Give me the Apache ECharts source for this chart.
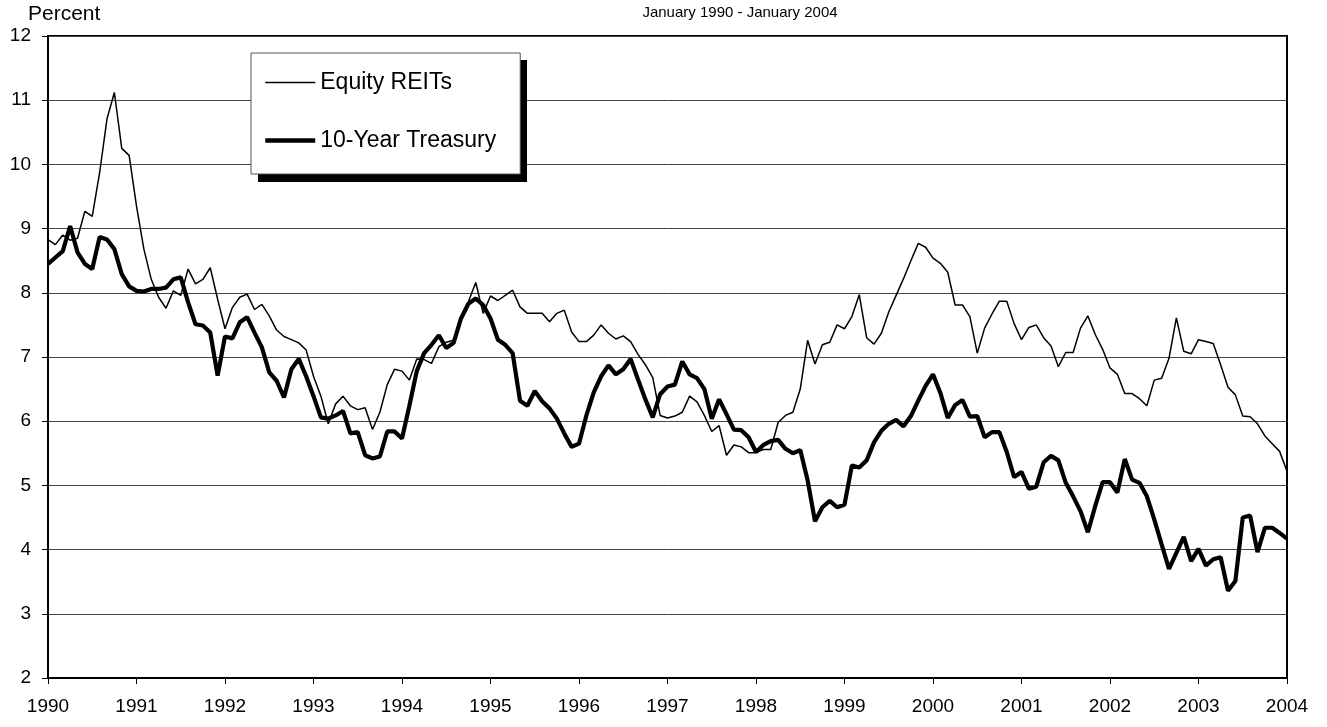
<!DOCTYPE html>
<html>
<head>
<meta charset="utf-8">
<script src="https://cdn.jsdelivr.net/npm/echarts@6/dist/echarts.min.js"></script>
<style>
html,body{margin:0;padding:0;background:#fff;}
#chart{width:1327px;height:727px;}
</style>
</head>
<body>
<div id="chart"></div>
<script>
// Monthly categories Jan 1990 .. Jan 2004
var months = [];
for (var y = 1990; y <= 2004; y++) {
  for (var m = 1; m <= 12; m++) {
    if (y === 2004 && m > 1) break;
    months.push(y + '-' + (m < 10 ? '0' + m : m));
  }
}
var yTicks = [2, 3, 4, 5, 6, 7, 8, 9, 10, 11, 12];
var titleText = 'January 1990 - January 2004';
var yAxisName = 'Percent';
var seriesNames = ['Equity REITs', '10-Year Treasury'];

var equityREITs = [
  8.83, 8.75, 8.90, 8.82, 8.85, 9.27, 9.19, 9.87, 10.71, 11.12, 10.25, 10.14,
  9.35, 8.68, 8.21, 7.93, 7.76, 8.03, 7.96, 8.37, 8.14, 8.21, 8.39, 7.90,
  7.44, 7.77, 7.93, 7.98, 7.74, 7.82, 7.64, 7.42, 7.32, 7.27, 7.22, 7.11,
  6.70, 6.39, 5.96, 6.27, 6.39, 6.24, 6.18, 6.21, 5.87, 6.14, 6.57, 6.81,
  6.78, 6.64, 6.97, 6.96, 6.90, 7.16, 7.23, 7.26, 7.63, 7.86, 8.16, 7.68,
  7.95, 7.88, 7.96, 8.04, 7.78, 7.68, 7.68, 7.68, 7.55, 7.68, 7.73, 7.39,
  7.24, 7.24, 7.34, 7.50, 7.37, 7.28, 7.33, 7.24, 7.04, 6.88, 6.68, 6.09,
  6.05, 6.08, 6.14, 6.39, 6.30, 6.09, 5.84, 5.93, 5.47, 5.63, 5.60, 5.51,
  5.51, 5.56, 5.56, 5.98, 6.09, 6.14, 6.50, 7.26, 6.89, 7.19, 7.23, 7.50,
  7.44, 7.63, 7.97, 7.30, 7.20, 7.37, 7.70, 7.96, 8.22, 8.50, 8.77, 8.71,
  8.54, 8.46, 8.32, 7.81, 7.81, 7.63, 7.06, 7.45, 7.67, 7.87, 7.87, 7.52,
  7.27, 7.46, 7.50, 7.30, 7.17, 6.85, 7.07, 7.07, 7.45, 7.64, 7.35, 7.12,
  6.83, 6.73, 6.43, 6.43, 6.35, 6.24, 6.64, 6.67, 6.98, 7.61, 7.09, 7.05,
  7.27, 7.24, 7.21, 6.88, 6.53, 6.41, 6.08, 6.07, 5.96, 5.77, 5.65, 5.53,
  5.22
];

var treasury10y = [
  8.45, 8.55, 8.65, 9.04, 8.63, 8.45, 8.37, 8.87, 8.83, 8.68, 8.29, 8.10,
  8.03, 8.02, 8.06, 8.06, 8.08, 8.21, 8.24, 7.85, 7.51, 7.49, 7.38, 6.71,
  7.32, 7.29, 7.54, 7.62, 7.38, 7.15, 6.76, 6.63, 6.37, 6.81, 6.97, 6.70,
  6.39, 6.06, 6.04, 6.09, 6.16, 5.81, 5.83, 5.47, 5.42, 5.45, 5.84, 5.84,
  5.73, 6.24, 6.78, 7.06, 7.19, 7.34, 7.14, 7.22, 7.60, 7.83, 7.91, 7.81,
  7.60, 7.27, 7.19, 7.06, 6.32, 6.24, 6.47, 6.31, 6.20, 6.04, 5.81, 5.60,
  5.65, 6.09, 6.45, 6.70, 6.87, 6.73, 6.81, 6.97, 6.65, 6.34, 6.06, 6.42,
  6.54, 6.57, 6.93, 6.73, 6.67, 6.50, 6.04, 6.34, 6.11, 5.87, 5.86, 5.75,
  5.52, 5.63, 5.69, 5.71, 5.57, 5.50, 5.55, 5.08, 4.44, 4.66, 4.76, 4.66,
  4.70, 5.31, 5.28, 5.39, 5.67, 5.85, 5.96, 6.02, 5.92, 6.08, 6.32, 6.55,
  6.73, 6.44, 6.05, 6.25, 6.33, 6.07, 6.08, 5.75, 5.83, 5.83, 5.52, 5.13,
  5.21, 4.95, 4.98, 5.36, 5.46, 5.39, 5.04, 4.83, 4.60, 4.27, 4.68, 5.05,
  5.05, 4.89, 5.41, 5.09, 5.04, 4.83, 4.47, 4.08, 3.70, 3.95, 4.20, 3.82,
  4.01, 3.75, 3.85, 3.88, 3.36, 3.51, 4.50, 4.53, 3.96, 4.34, 4.34, 4.26,
  4.17
];

var FONT = '"Liberation Sans", Arial, sans-serif';
var chart = echarts.init(document.getElementById('chart'), null, {renderer: 'canvas'});

var yearEvery = function (index) { return index % 12 === 0; };

chart.setOption({
  animation: false,
  backgroundColor: '#fff',
  grid: {
    left: 48, right: 40, top: 36, bottom: 49,
    show: true, borderColor: '#000', borderWidth: 2, backgroundColor: 'transparent'
  },
  graphic: [
    {type: 'text', left: 28, top: 4, style: {text: yAxisName, font: '21px ' + FONT, fill: '#000'}},
    {type: 'text', x: 740, y: 5, style: {text: titleText, font: '15px ' + FONT, fill: '#000', textAlign: 'center', textVerticalAlign: 'top'}},
    // drop shadow behind the legend box
    {type: 'rect', z: 10, shape: {x: 258, y: 60, width: 269, height: 122}, style: {fill: '#000'}}
  ],
  legend: {
    z: 20,
    orient: 'vertical',
    left: 251, top: 53,
    padding: [18, 24, 22, 12],
    itemGap: 35,
    itemWidth: 50,
    itemHeight: 23,
    backgroundColor: '#fff',
    borderColor: '#555',
    borderWidth: 1,
    itemStyle: {opacity: 0, color: 'rgba(0,0,0,0)', borderWidth: 0},
    textStyle: {fontFamily: FONT, fontSize: 23, color: '#000'},
    data: [
      {name: seriesNames[0], lineStyle: {width: 1.5, color: '#000'}},
      {name: seriesNames[1], lineStyle: {width: 4.5, color: '#000'}}
    ]
  },
  xAxis: {
    type: 'category',
    data: months,
    boundaryGap: false,
    axisLine: {show: true, lineStyle: {color: '#000', width: 2}},
    axisTick: {show: true, interval: yearEvery, length: 6, lineStyle: {color: '#000', width: 1}},
    axisLabel: {
      interval: yearEvery, margin: 19, color: '#000', fontFamily: FONT, fontSize: 19,
      formatter: function (v) { return v.slice(0, 4); }
    },
    splitLine: {show: false}
  },
  yAxis: {
    type: 'value',
    min: yTicks[0], max: yTicks[yTicks.length - 1], interval: 1,
    axisLine: {show: true, lineStyle: {color: '#000', width: 2}},
    axisTick: {show: true, length: 6, lineStyle: {color: '#000'}},
    axisLabel: {margin: 17, color: '#000', fontFamily: FONT, fontSize: 19},
    splitLine: {show: true, lineStyle: {color: '#444', width: 1}}
  },
  series: [
    {
      name: seriesNames[0], type: 'line', data: equityREITs,
      symbol: 'none', lineStyle: {color: '#000', width: 1.5}, itemStyle: {color: '#000'}, z: 3
    },
    {
      name: seriesNames[1], type: 'line', data: treasury10y,
      symbol: 'none', lineStyle: {color: '#000', width: 4.2}, itemStyle: {color: '#000'}, z: 4
    }
  ]
});
</script>
</body>
</html>
